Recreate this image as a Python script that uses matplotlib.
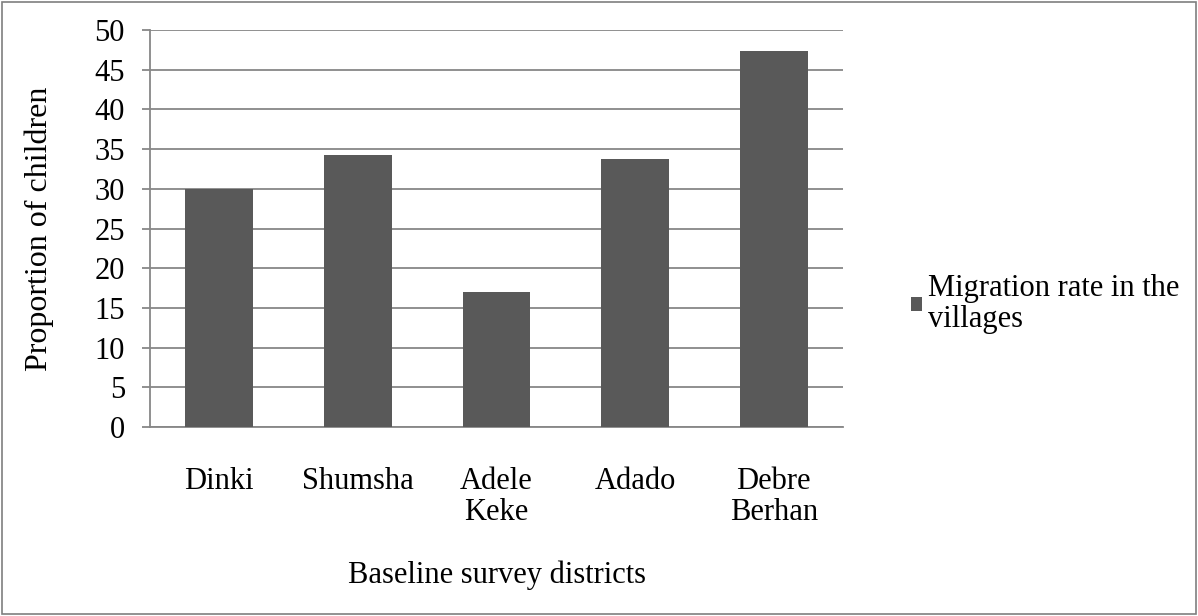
import matplotlib
matplotlib.use("Agg")
import matplotlib.pyplot as plt
from matplotlib.patches import Rectangle

districts = ["Dinki", "Shumsha", "Adele\nKeke", "Adado", "Debre\nBerhan"]
migration_rate = [30.0, 34.3, 17.0, 33.8, 47.4]
y_ticks = [0, 5, 10, 15, 20, 25, 30, 35, 40, 45, 50]
series_name = "Migration rate in the\nvillages"

plt.rcParams["font.family"] = ["Liberation Serif", "DejaVu Serif"]

BAR = "#595959"
GRID = "#878787"
FS = 22

fig = plt.figure(figsize=(11.98, 6.16), dpi=100)
fig.patches.append(Rectangle((0.0015, 0.0025), 0.997, 0.995, transform=fig.transFigure,
                             fill=False, edgecolor="#7f7f7f", linewidth=1.2))

ax = fig.add_axes([0.1252, 0.3068, 0.5785, 0.6445])
x = list(range(len(districts)))
ax.bar(x, migration_rate, width=0.49, color=BAR, zorder=3, label=series_name)

ax.set_xlim(-0.5, len(districts) - 0.5)
ax.set_ylim(0, 50)
ax.set_yticks(y_ticks)
ax.set_yticklabels([str(t) for t in y_ticks], fontsize=FS)
ax.set_xticks(x)
ax.set_xticklabels(districts, fontsize=FS, linespacing=1.07)

ax.grid(axis="y", color=GRID, linewidth=1.3, zorder=0)
for side in ["top", "right"]:
    ax.spines[side].set_visible(False)
ax.spines["left"].set_color(GRID)
ax.spines["left"].set_linewidth(1.3)
ax.spines["bottom"].set_color(GRID)
ax.spines["bottom"].set_linewidth(1.3)
ax.tick_params(axis="y", length=6, width=1.3, color=GRID, pad=12)
ax.tick_params(axis="x", length=0, pad=29)

ax.set_ylabel("Proportion of children", fontsize=23, labelpad=29)
ax.set_xlabel("Baseline survey districts", fontsize=FS, labelpad=24.5)

ax.legend(loc="center left", bbox_to_anchor=(1.058, 0.31), frameon=False,
          fontsize=FS, handlelength=0.37, handleheight=0.37, handletextpad=0.2,
          borderaxespad=0.5)
for t in ax.get_legend().get_texts():
    t.set_linespacing(1.07)

fig.savefig("out.png", dpi=100)
